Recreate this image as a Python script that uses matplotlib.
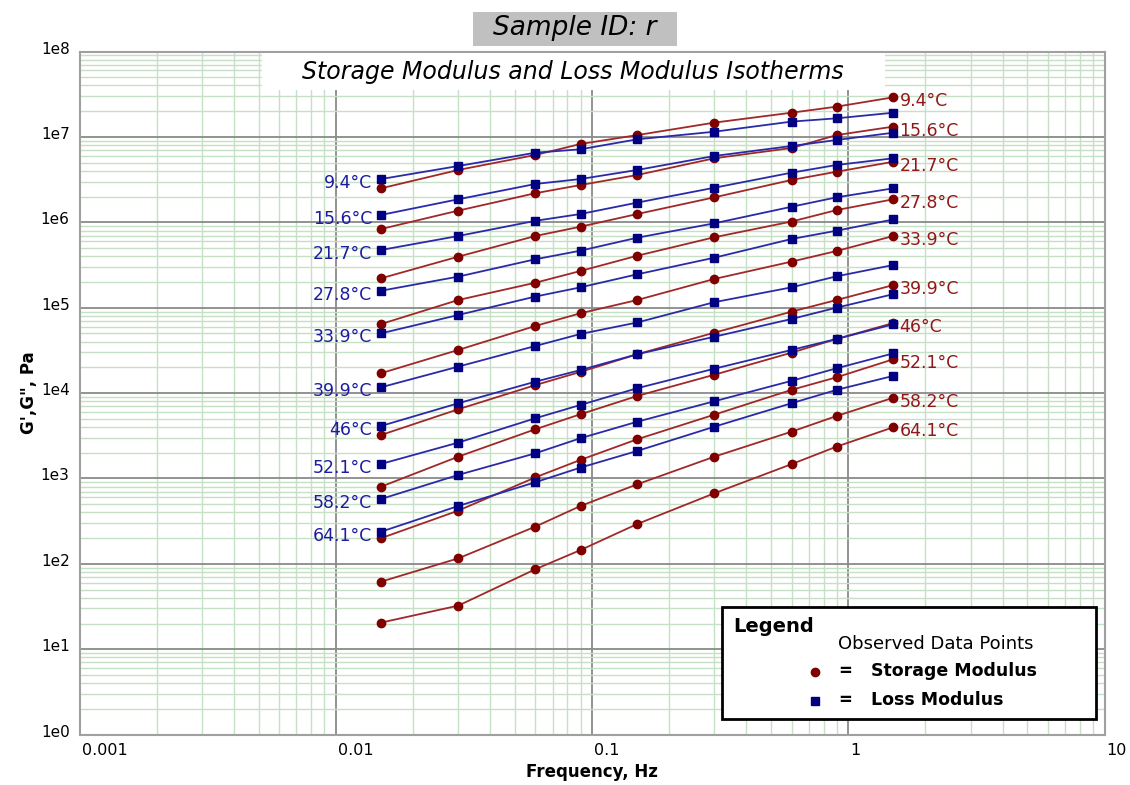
import matplotlib
matplotlib.use("Agg")
import matplotlib.pyplot as plt
import matplotlib.transforms as mtransforms
from matplotlib.lines import Line2D
from matplotlib.patches import Rectangle
from matplotlib.ticker import LogLocator, NullFormatter

# isotherm temperatures (deg C)
temps = ["9.4", "15.6", "21.7", "27.8", "33.9", "39.9", "46", "52.1", "58.2", "64.1"]

# test frequencies, Hz
freq = [0.015, 0.03, 0.06, 0.09, 0.15, 0.3, 0.6, 0.9, 1.5]

# storage modulus G', Pa (one row per temperature)
storage = [
    [2.50e6, 4.10e6, 6.14e6, 8.26e6, 1.05e7, 1.47e7, 1.92e7, 2.26e7, 2.91e7],
    [8.35e5, 1.37e6, 2.19e6, 2.73e6, 3.58e6, 5.62e6, 7.41e6, 1.05e7, 1.32e7],
    [2.21e5, 3.96e5, 6.91e5, 8.88e5, 1.25e6, 1.96e6, 3.13e6, 3.91e6, 5.12e6],
    [6.44e4, 1.23e5, 1.96e5, 2.69e5, 4.06e5, 6.68e5, 1.02e6, 1.39e6, 1.86e6],
    [1.71e4, 3.20e4, 6.11e4, 8.60e4, 1.23e5, 2.17e5, 3.46e5, 4.61e5, 6.91e5],
    [3.23e3, 6.46e3, 1.24e4, 1.77e4, 2.85e4, 5.10e4, 8.98e4, 1.23e5, 1.84e5],
    [802, 1.80e3, 3.77e3, 5.65e3, 9.25e3, 1.64e4, 2.97e4, 4.30e4, 6.62e4],
    [200, 420, 1.03e3, 1.65e3, 2.88e3, 5.59e3, 1.09e4, 1.53e4, 2.49e4],
    [61.9, 116, 273, 476, 855, 1.80e3, 3.53e3, 5.39e3, 8.83e3],
    [20.5, 32.4, 86.5, 145, 293, 671, 1.47e3, 2.36e3, 3.98e3],
]

# loss modulus G'', Pa
loss = [
    [3.21e6, 4.56e6, 6.53e6, 7.16e6, 9.37e6, 1.15e7, 1.51e7, 1.65e7, 1.92e7],
    [1.22e6, 1.86e6, 2.81e6, 3.21e6, 4.10e6, 5.98e6, 7.82e6, 9.20e6, 1.12e7],
    [4.74e5, 6.91e5, 1.04e6, 1.25e6, 1.70e6, 2.54e6, 3.81e6, 4.69e6, 5.62e6],
    [1.58e5, 2.31e5, 3.69e5, 4.65e5, 6.60e5, 9.73e5, 1.52e6, 1.96e6, 2.50e6],
    [5.01e4, 8.21e4, 1.35e5, 1.73e5, 2.46e5, 3.85e5, 6.37e5, 7.97e5, 1.08e6],
    [1.17e4, 2.04e4, 3.56e4, 4.92e4, 6.71e4, 1.16e5, 1.73e5, 2.33e5, 3.16e5],
    [4.12e3, 7.60e3, 1.36e4, 1.86e4, 2.85e4, 4.57e4, 7.37e4, 1.00e5, 1.44e5],
    [1.48e3, 2.63e3, 5.07e3, 7.26e3, 1.14e4, 1.93e4, 3.20e4, 4.30e4, 6.39e4],
    [575, 1.10e3, 1.97e3, 2.96e3, 4.62e3, 8.02e3, 1.39e4, 1.95e4, 2.92e4],
    [238, 476, 903, 1.34e3, 2.10e3, 4.04e3, 7.60e3, 1.09e4, 1.59e4],
]

xticks = [0.001, 0.01, 0.1, 1, 10]
xticklabels = ["0.001", "0.01", "0.1", "1", "10"]
yticks = [10.0 ** k for k in range(9)]
yticklabels = ["1e%d" % k for k in range(9)]

RED = "#800000"
RED_LINE = "#a02828"
BLUE = "#000080"
BLUE_LINE = "#2a2aa8"

W, H = 1130, 785


def fx(px):
    return px / W


def fy(py):
    return 1 - py / H


fig = plt.figure(figsize=(W / 100, H / 100), dpi=100)
ax = fig.add_axes([fx(80), fy(734.6), fx(1104.5) - fx(80), fy(51.5) - fy(734.6)])
ax.set_xscale("log")
ax.set_yscale("log")
ax.set_xlim(1e-3, 10)
ax.set_ylim(1, 1e8)

ax.set_xticks(xticks)
ax.set_xticklabels(xticklabels, ha="left")
ax.set_yticks(yticks)
ax.set_yticklabels(yticklabels)
for axis in (ax.xaxis, ax.yaxis):
    axis.set_minor_locator(LogLocator(base=10, subs=range(2, 10), numticks=30))
    axis.set_minor_formatter(NullFormatter())
ax.tick_params(which="both", length=0, labelsize=11.5)
ax.tick_params(axis="y", pad=7.5, labelsize=11)
ax.tick_params(axis="x", pad=6)

# y labels sit a little above their grid line, x labels start at the tick
shift_up = mtransforms.ScaledTranslation(0, 0.04, fig.dpi_scale_trans)
for lab in ax.get_yticklabels():
    lab.set_transform(lab.get_transform() + shift_up)
shift_right = mtransforms.ScaledTranslation(0.02, 0, fig.dpi_scale_trans)
for lab in ax.get_xticklabels():
    lab.set_transform(lab.get_transform() + shift_right)

ax.set_axisbelow(True)
ax.grid(which="minor", color="#c6e0c6", lw=1.0)
ax.grid(which="major", color="#8a8a8a", lw=1.3)
for sp in ax.spines.values():
    sp.set_color("#a0a0a0")
    sp.set_linewidth(1.5)

ax.set_ylabel("G',G\", Pa", fontsize=12, fontweight="bold", labelpad=2)
ax.set_xlabel("Frequency, Hz", fontsize=12, fontweight="bold", labelpad=4)

for g1 in storage:
    ax.plot(freq, g1, color=RED_LINE, lw=1.3, marker="o", ms=6,
            mfc=RED, mec=RED, zorder=4)
for g2 in loss:
    ax.plot(freq, g2, color=BLUE_LINE, lw=1.3, marker="s", ms=6.3,
            mfc=BLUE, mec=BLUE, zorder=5)

for t, g1, g2 in zip(temps, storage, loss):
    ax.annotate(t + "°C", xy=(freq[0], g2[0]), xytext=(-9, -4),
                textcoords="offset pixels", ha="right", va="center",
                color="#1c1ca0", fontsize=12.5, zorder=6)
    ax.annotate(t + "°C", xy=(freq[-1], g1[-1]), xytext=(6, -4),
                textcoords="offset pixels", ha="left", va="center",
                color="#901818", fontsize=12.5, zorder=6)

# title block
fig.add_artist(Rectangle((fx(473), fy(46)), fx(677) - fx(473), fy(12) - fy(46),
                         facecolor="#c0c0c0", edgecolor="none"))
fig.text(fx(575), fy(28), "Sample ID: r", ha="center", va="center",
         fontsize=19, style="italic")
fig.add_artist(Rectangle((fx(262), fy(90)), fx(885) - fx(262), fy(53) - fy(90),
                         facecolor="white", edgecolor="none", zorder=3))
fig.text(fx(573), fy(72), "Storage Modulus and Loss Modulus Isotherms",
         ha="center", va="center", fontsize=17, style="italic", zorder=4)

# legend panel
fig.add_artist(Rectangle((fx(722), fy(719)), fx(1096) - fx(722), fy(607) - fy(719),
                         facecolor="white", edgecolor="black", lw=2, zorder=7))
fig.text(fx(733), fy(626), "Legend", ha="left", va="center",
         fontsize=14, fontweight="bold", zorder=8)
fig.text(fx(838), fy(644), "Observed Data Points", ha="left", va="center",
         fontsize=13, zorder=8)
fig.add_artist(Line2D([fx(815)], [fy(672)], marker="o", ms=6, color=RED,
                      ls="none", zorder=8))
fig.add_artist(Line2D([fx(815)], [fy(701)], marker="s", ms=6, color=BLUE,
                      ls="none", zorder=8))
for py, name in [(671, "Storage Modulus"), (700, "Loss Modulus")]:
    fig.text(fx(845), fy(py), "=", ha="center", va="center",
             fontsize=12, fontweight="bold", zorder=8)
    fig.text(fx(871), fy(py), name, ha="left", va="center",
             fontsize=12.5, fontweight="bold", zorder=8)

fig.savefig("out.png", dpi=100)
